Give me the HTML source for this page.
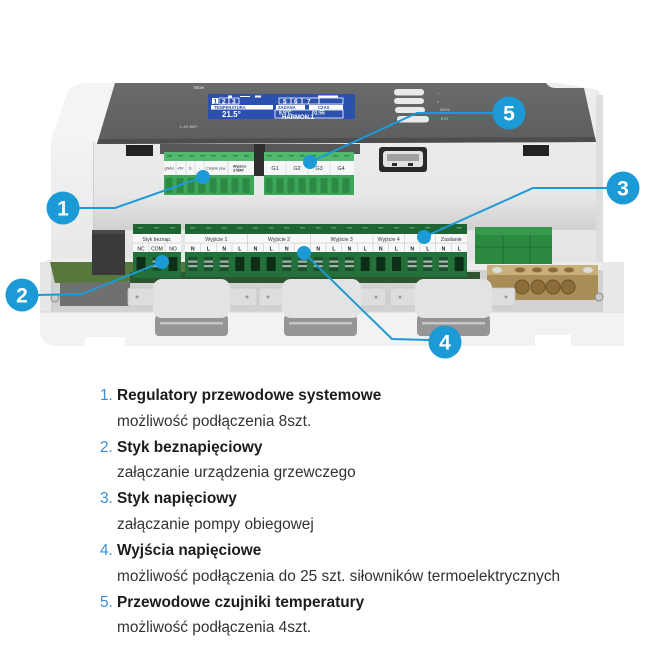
<!DOCTYPE html>
<html><head><meta charset="utf-8">
<style>
html,body{margin:0;padding:0;background:#fff;}
body{width:650px;height:650px;position:relative;overflow:hidden;font-family:"Liberation Sans",Arial,sans-serif;}
svg{position:absolute;left:0;top:0;}
.n{position:absolute;left:100px;font-size:15.4px;line-height:20px;color:#3a8fd3;white-space:nowrap;}
.t{position:absolute;left:117px;font-size:15.4px;line-height:20px;white-space:nowrap;}
.b{font-weight:bold;color:#1c1c1c;}
.r{color:#333;}
</style></head><body>
<svg width="650" height="650" viewBox="0 0 650 650" font-family="Liberation Sans, Arial, sans-serif">
<defs>
 <linearGradient id="hs" x1="0" y1="0" x2="0" y2="1"><stop offset="0" stop-color="#eeeeee"/><stop offset="1" stop-color="#e4e4e4"/></linearGradient>
 <linearGradient id="shelf" x1="0" y1="0" x2="0" y2="1"><stop offset="0" stop-color="#e5e5e5"/><stop offset="1" stop-color="#d0d0d0"/></linearGradient>
 <linearGradient id="pan" x1="0" y1="0" x2="0" y2="1"><stop offset="0" stop-color="#6a6b6d"/><stop offset="1" stop-color="#5c5d5f"/></linearGradient>
 <linearGradient id="lf" x1="0" y1="0" x2="0" y2="1"><stop offset="0" stop-color="#f3f3f3"/><stop offset="1" stop-color="#e6e6e6"/></linearGradient>
</defs>

<!-- housing -->
<path d="M51,140 L66,97 Q70,84 86,83 L560,83 L598,90 L603,100 L603,268 L51,272 Z" fill="url(#hs)"/>
<path d="M51,140 L66,97 Q70,84 86,83 L115,83 L97,142 Z" fill="#f4f4f4"/>
<rect x="51" y="140" width="42" height="132" fill="url(#lf)"/>
<line x1="93.5" y1="142" x2="93.5" y2="272" stroke="#d0d0d0" stroke-width="1"/>
<rect x="94" y="198" width="509" height="32" fill="url(#shelf)"/>
<rect x="596" y="95" width="7" height="172" fill="#dddddd"/>

<!-- top panel -->
<path d="M115,83 L546,83 Q549,88 556,88 L584,88 L596,142 L97,144 Z" fill="url(#pan)"/>
<path d="M98.5,139 L595,137 L596,142 L97,144 Z" fill="#4c4d4f"/>

<!-- display -->
<rect x="208" y="94" width="147" height="25" fill="#2b50ad"/>
<g fill="#ffffff">
 <rect x="228" y="95.5" width="4" height="2"/><rect x="240" y="96" width="10" height="1"/><rect x="255" y="95.5" width="6" height="2"/><rect x="318" y="95.5" width="20" height="2"/>
 <rect x="212" y="98" width="6" height="6"/>
</g>
<g fill="none" stroke="#ffffff" stroke-width="0.8">
 <rect x="219" y="98" width="10" height="6"/><rect x="229" y="98" width="10" height="6"/>
 <rect x="279" y="98" width="12" height="6"/><rect x="291" y="98" width="11" height="6"/><rect x="302" y="98" width="17" height="6"/><rect x="319" y="98" width="24" height="6"/>
 <rect x="275" y="110" width="68" height="8"/>
</g>
<g fill="#ffffff" font-weight="bold" font-size="6.5">
 <text x="222" y="103.5">2</text><text x="232" y="103.5">3</text>
 <text x="283" y="103.5">5</text><text x="294" y="103.5">6</text><text x="307" y="103.5">7</text>
</g>
<text x="213.5" y="103.5" font-size="6.5" font-weight="bold" fill="#2b50ad">1</text>
<rect x="211" y="105" width="62" height="4.5" fill="#fff"/>
<rect x="276" y="105" width="29" height="4.5" fill="#fff"/>
<rect x="309" y="105" width="34" height="4.5" fill="#fff"/>
<g fill="#2b50ad" font-size="4.2" font-weight="bold">
 <text x="214" y="109">TEMPERATURA</text><text x="278" y="109">ZADANA</text><text x="318" y="109">CZAS</text>
</g>
<g fill="#fff" font-weight="bold">
 <text x="222" y="117" font-size="8">21.5°</text>
 <text x="279" y="114.5" font-size="5">8.9°C</text><text x="312" y="114.5" font-size="5">01:55</text>
 <text x="282" y="119" font-size="6">HARMON.1</text>
</g>
<text x="193" y="89" font-size="4" font-weight="bold" fill="#e0e0e0">TECH</text>
<text x="180" y="128" font-size="4" fill="#d8d8d8">L-4X WiFi</text>

<!-- buttons -->
<g fill="#e9e9e9">
 <rect x="394" y="89" width="30" height="6.5" rx="3"/>
 <rect x="394" y="98" width="30" height="6" rx="3"/>
 <rect x="395" y="107" width="30" height="6" rx="3"/>
 <rect x="397" y="116" width="32" height="6.5" rx="3"/>
</g>
<g fill="#cfcfcf" font-size="3.5">
 <text x="437" y="95">^</text><text x="437" y="103">v</text><text x="440" y="111">MENU</text><text x="441" y="120">EXIT</text>
</g>

<!-- under panel -->
<rect x="126" y="145" width="27" height="11" fill="#222"/>
<rect x="523" y="145" width="26" height="11" fill="#222"/>
<rect x="160" y="144" width="200" height="10" fill="#575757"/>
<rect x="254" y="144" width="11" height="32" fill="#2f2f2f"/>

<!-- USB -->
<rect x="379" y="147" width="48" height="25" rx="3" fill="#2a2a2a"/>
<rect x="383" y="151" width="40" height="16" rx="3" fill="#e2e2e2"/>
<rect x="387" y="154" width="32" height="7" fill="#a0a0a0"/>
<rect x="392" y="163" width="5" height="3" fill="#2a2a2a"/>
<rect x="408" y="163" width="5" height="3" fill="#2a2a2a"/>

<!-- top green block 1 -->
<rect x="164" y="152" width="90" height="43" fill="#3da658"/>
<rect x="164" y="152" width="90" height="9" fill="#52b86d"/>
<g fill="#2f8a48">
 <rect x="167" y="155" width="5" height="1.5"/><rect x="178" y="155" width="5" height="1.5"/><rect x="189" y="155" width="5" height="1.5"/><rect x="200" y="155" width="5" height="1.5"/><rect x="211" y="155" width="5" height="1.5"/><rect x="222" y="155" width="5" height="1.5"/><rect x="233" y="155" width="5" height="1.5"/><rect x="244" y="155" width="5" height="1.5"/>
</g>
<rect x="164" y="161" width="90" height="14" fill="#f7f7f7"/>
<g stroke="#c8c8c8" stroke-width="0.6">
 <line x1="176" y1="161" x2="176" y2="175"/><line x1="186" y1="161" x2="186" y2="175"/><line x1="195" y1="161" x2="195" y2="175"/><line x1="204" y1="161" x2="204" y2="175"/><line x1="228" y1="161" x2="228" y2="175"/>
</g>
<g font-size="3.6" fill="#333">
 <text x="164.5" y="169.5">gNAU</text><text x="177" y="169.5">+5V</text><text x="189" y="169.5">D</text><text x="199" y="169.5">-</text><text x="206" y="169.5">Czujnik zew.</text>
 <text x="233" y="167.5" font-weight="bold">Wyjście</text><text x="233" y="171.5" font-weight="bold">3-WAY</text>
</g>
<g fill="#2d8a46">
 <rect x="165.5" y="178" width="7" height="15"/><rect x="176.5" y="178" width="7" height="15"/><rect x="187.5" y="178" width="7" height="15"/><rect x="198.5" y="178" width="7" height="15"/><rect x="209.5" y="178" width="7" height="15"/><rect x="220.5" y="178" width="7" height="15"/><rect x="231.5" y="178" width="7" height="15"/><rect x="242.5" y="178" width="7" height="15"/>
</g>

<!-- top green block 2 -->
<rect x="264" y="152" width="90" height="43" fill="#3da658"/>
<rect x="264" y="152" width="90" height="9" fill="#52b86d"/>
<g fill="#2f8a48">
 <rect x="267" y="155" width="5" height="1.5"/><rect x="278" y="155" width="5" height="1.5"/><rect x="289" y="155" width="5" height="1.5"/><rect x="300" y="155" width="5" height="1.5"/><rect x="311" y="155" width="5" height="1.5"/><rect x="322" y="155" width="5" height="1.5"/><rect x="333" y="155" width="5" height="1.5"/><rect x="344" y="155" width="5" height="1.5"/>
</g>
<rect x="264" y="161" width="90" height="14" fill="#f7f7f7"/>
<g stroke="#c8c8c8" stroke-width="0.6">
 <line x1="286" y1="161" x2="286" y2="175"/><line x1="308" y1="161" x2="308" y2="175"/><line x1="330" y1="161" x2="330" y2="175"/>
</g>
<g font-size="5.5" fill="#333" text-anchor="middle">
 <text x="275" y="170">G1</text><text x="297" y="170">G2</text><text x="319" y="170">G3</text><text x="341" y="170">G4</text>
</g>
<g fill="#2d8a46">
 <rect x="265.5" y="178" width="7" height="15"/><rect x="276.5" y="178" width="7" height="15"/><rect x="287.5" y="178" width="7" height="15"/><rect x="298.5" y="178" width="7" height="15"/><rect x="309.5" y="178" width="7" height="15"/><rect x="320.5" y="178" width="7" height="15"/><rect x="331.5" y="178" width="7" height="15"/><rect x="342.5" y="178" width="7" height="15"/>
</g>

<!-- tray base -->
<path d="M40,264 L52,258 L603,262 L624,262 L624,346 L58,346 Q41,346 40,330 Z" fill="#ececec"/>
<rect x="50" y="270" width="553" height="44" fill="#d2d2d2"/>
<rect x="60" y="282" width="70" height="24" fill="#707070"/>
<rect x="40" y="262" width="12" height="60" fill="#e6e6e6"/>
<line x1="52" y1="262" x2="52" y2="312" stroke="#bdbdbd" stroke-width="1"/>

<!-- relay & PCB -->
<polygon points="50,262 185,262 185,281 55,283" fill="#56783c"/>
<rect x="130" y="272" width="350" height="11" fill="#2f5530"/>
<rect x="92" y="230" width="33" height="45" fill="#3a3a3a"/>
<rect x="92" y="230" width="33" height="4" fill="#4a4a4a"/>

<!-- Styk block -->
<rect x="133" y="224" width="48" height="54" fill="#23703a"/>
<rect x="133" y="224" width="48" height="10" fill="#1f6534"/>
<g fill="#4d9a66"><rect x="138" y="227" width="5" height="1.5"/><rect x="154" y="227" width="5" height="1.5"/><rect x="170" y="227" width="5" height="1.5"/></g>
<rect x="133" y="234" width="48" height="18" fill="#f8f8f8"/>
<g stroke="#bbb" stroke-width="0.5"><line x1="133" y1="243" x2="181" y2="243"/><line x1="149" y1="243" x2="149" y2="252"/><line x1="165" y1="243" x2="165" y2="252"/></g>
<text x="157" y="241" font-size="5" fill="#333" text-anchor="middle">Styk beznap.</text>
<g font-size="5" fill="#222" text-anchor="middle"><text x="141" y="250.5">NC</text><text x="157" y="250.5">COM</text><text x="173" y="250.5">NO</text></g>
<rect x="136.5" y="257" width="9" height="14" fill="#0f2e18"/>
<rect x="152.5" y="257" width="9" height="14" fill="#1a4f2b"/>
<rect x="168.5" y="257" width="9" height="14" fill="#0f2e18"/>

<!-- main block -->
<rect x="185" y="224" width="282" height="53" fill="#23703a"/>
<rect x="185" y="224" width="282" height="10" fill="#1f6534"/>
<g fill="#4d9a66">
 <rect x="190.3" y="227" width="5" height="1.5"/><rect x="206" y="227" width="5" height="1.5"/><rect x="221.7" y="227" width="5" height="1.5"/><rect x="237.3" y="227" width="5" height="1.5"/><rect x="253" y="227" width="5" height="1.5"/><rect x="268.7" y="227" width="5" height="1.5"/><rect x="284.3" y="227" width="5" height="1.5"/><rect x="300" y="227" width="5" height="1.5"/><rect x="315.7" y="227" width="5" height="1.5"/><rect x="331.3" y="227" width="5" height="1.5"/><rect x="347" y="227" width="5" height="1.5"/><rect x="362.7" y="227" width="5" height="1.5"/><rect x="378.3" y="227" width="5" height="1.5"/><rect x="394" y="227" width="5" height="1.5"/><rect x="409.7" y="227" width="5" height="1.5"/><rect x="425.3" y="227" width="5" height="1.5"/><rect x="441" y="227" width="5" height="1.5"/><rect x="456.7" y="227" width="5" height="1.5"/>
</g>
<rect x="185" y="234" width="282" height="18" fill="#f8f8f8"/>
<g stroke="#bbb" stroke-width="0.5">
 <line x1="185" y1="243" x2="467" y2="243"/>
 <line x1="247.7" y1="234" x2="247.7" y2="252"/><line x1="310.3" y1="234" x2="310.3" y2="252"/><line x1="373" y1="234" x2="373" y2="252"/><line x1="404.3" y1="234" x2="404.3" y2="252"/><line x1="435.7" y1="234" x2="435.7" y2="252"/>
 <line x1="200.7" y1="243" x2="200.7" y2="252"/><line x1="216.3" y1="243" x2="216.3" y2="252"/><line x1="232" y1="243" x2="232" y2="252"/><line x1="263.3" y1="243" x2="263.3" y2="252"/><line x1="279" y1="243" x2="279" y2="252"/><line x1="294.7" y1="243" x2="294.7" y2="252"/><line x1="326" y1="243" x2="326" y2="252"/><line x1="341.7" y1="243" x2="341.7" y2="252"/><line x1="357.3" y1="243" x2="357.3" y2="252"/><line x1="388.7" y1="243" x2="388.7" y2="252"/><line x1="420" y1="243" x2="420" y2="252"/><line x1="451.3" y1="243" x2="451.3" y2="252"/>
</g>
<g font-size="5.2" fill="#333" text-anchor="middle">
 <text x="216.3" y="241">Wyjście 1</text><text x="279" y="241">Wyjście 2</text><text x="341.7" y="241">Wyjście 3</text><text x="388.7" y="241">Wyjście 4</text><text x="420" y="241">P</text><text x="451.3" y="241">Zasilanie</text>
</g>
<g font-size="5.2" fill="#222" text-anchor="middle" font-weight="bold">
 <text x="192.8" y="250.5">N</text><text x="208.5" y="250.5">L</text><text x="224.2" y="250.5">N</text><text x="239.8" y="250.5">L</text><text x="255.5" y="250.5">N</text><text x="271.2" y="250.5">L</text><text x="286.8" y="250.5">N</text><text x="302.5" y="250.5">L</text><text x="318.2" y="250.5">N</text><text x="333.8" y="250.5">L</text><text x="349.5" y="250.5">N</text><text x="365.2" y="250.5">L</text><text x="380.8" y="250.5">N</text><text x="396.5" y="250.5">L</text><text x="412.2" y="250.5">N</text><text x="427.8" y="250.5">L</text><text x="443.5" y="250.5">N</text><text x="459.2" y="250.5">L</text>
</g>
<g fill="#1a4f2b">
 <rect x="188.3" y="257" width="9" height="14"/><rect x="204" y="257" width="9" height="14"/><rect x="219.7" y="257" width="9" height="14"/><rect x="282.3" y="257" width="9" height="14"/><rect x="298" y="257" width="9" height="14"/><rect x="313.7" y="257" width="9" height="14"/><rect x="329.3" y="257" width="9" height="14"/><rect x="345" y="257" width="9" height="14"/><rect x="407.7" y="257" width="9" height="14"/><rect x="423.3" y="257" width="9" height="14"/><rect x="439" y="257" width="9" height="14"/>
</g>
<g fill="#0f2e18">
 <rect x="235.3" y="257" width="9" height="14"/><rect x="251" y="257" width="9" height="14"/><rect x="266.7" y="257" width="9" height="14"/><rect x="360.7" y="257" width="9" height="14"/><rect x="376.3" y="257" width="9" height="14"/><rect x="392" y="257" width="9" height="14"/><rect x="454.7" y="257" width="9" height="14"/>
</g>
<g fill="#a6b0aa">
 <rect x="188.3" y="260.5" width="9" height="2.2"/><rect x="188.3" y="265" width="9" height="2.2"/>
 <rect x="204" y="260.5" width="9" height="2.2"/><rect x="204" y="265" width="9" height="2.2"/>
 <rect x="219.7" y="260.5" width="9" height="2.2"/><rect x="219.7" y="265" width="9" height="2.2"/>
 <rect x="282.3" y="260.5" width="9" height="2.2"/><rect x="282.3" y="265" width="9" height="2.2"/>
 <rect x="298" y="260.5" width="9" height="2.2"/><rect x="298" y="265" width="9" height="2.2"/>
 <rect x="313.7" y="260.5" width="9" height="2.2"/><rect x="313.7" y="265" width="9" height="2.2"/>
 <rect x="329.3" y="260.5" width="9" height="2.2"/><rect x="329.3" y="265" width="9" height="2.2"/>
 <rect x="345" y="260.5" width="9" height="2.2"/><rect x="345" y="265" width="9" height="2.2"/>
 <rect x="407.7" y="260.5" width="9" height="2.2"/><rect x="407.7" y="265" width="9" height="2.2"/>
 <rect x="423.3" y="260.5" width="9" height="2.2"/><rect x="423.3" y="265" width="9" height="2.2"/>
 <rect x="439" y="260.5" width="9" height="2.2"/><rect x="439" y="265" width="9" height="2.2"/>
 <rect x="152.5" y="260.5" width="9" height="2.2"/><rect x="152.5" y="265" width="9" height="2.2"/>
</g>

<!-- right mains terminal -->
<rect x="475" y="227" width="77" height="37" fill="#2c8a40"/>
<rect x="475" y="227" width="77" height="8" fill="#36984a"/>
<g stroke="#1e6e30" stroke-width="1"><line x1="503" y1="235" x2="503" y2="264"/><line x1="530" y1="235" x2="530" y2="264"/><line x1="475" y1="247" x2="552" y2="247"/></g>

<!-- brass bar -->
<rect x="487" y="265" width="111" height="35" fill="#a98d56"/>
<rect x="487" y="265" width="111" height="10" fill="#c7b07a"/>
<g fill="#8a6b38"><ellipse cx="520" cy="270" rx="5" ry="2.5"/><ellipse cx="537" cy="270" rx="5" ry="2.5"/><ellipse cx="553" cy="270" rx="5" ry="2.5"/><ellipse cx="569" cy="270" rx="5" ry="2.5"/></g>
<ellipse cx="497" cy="270" rx="5" ry="3" fill="#dcdcdc"/><ellipse cx="588" cy="270" rx="5" ry="3" fill="#dcdcdc"/>
<g fill="#8c6d3a" stroke="#6b5128" stroke-width="1"><circle cx="522" cy="287" r="7"/><circle cx="538" cy="287" r="7"/><circle cx="553" cy="287" r="7"/><circle cx="568" cy="287" r="7"/></g>

<!-- tray front -->
<path d="M40,312 L624,312 L624,346 L58,346 Q41,346 40,330 Z" fill="#f2f2f2"/>
<line x1="40" y1="312" x2="624" y2="312" stroke="#d8d8d8" stroke-width="1"/>
<rect x="85" y="337" width="40" height="11" fill="#ffffff"/>
<rect x="535" y="335" width="36" height="13" fill="#ffffff"/>
<rect x="603" y="262" width="21" height="50" fill="#e9e9e9"/>
<circle cx="55" cy="298" r="4" fill="#c9c9c9" stroke="#8a8a8a" stroke-width="1"/>
<circle cx="599" cy="297" r="4" fill="#c9c9c9" stroke="#8a8a8a" stroke-width="1"/>

<!-- clamps -->
<g>
 <rect x="128" y="288" width="129" height="18" rx="2" fill="#dddddd" stroke="#c4c4c4" stroke-width="0.8"/>
 <rect x="259" y="288" width="127" height="18" rx="2" fill="#dddddd" stroke="#c4c4c4" stroke-width="0.8"/>
 <rect x="390" y="288" width="125" height="18" rx="2" fill="#dddddd" stroke="#c4c4c4" stroke-width="0.8"/>
 <g fill="#9a9a9a"><circle cx="137" cy="297" r="1.5"/><circle cx="247" cy="297" r="1.5"/><circle cx="268" cy="297" r="1.5"/><circle cx="376" cy="297" r="1.5"/><circle cx="400" cy="297" r="1.5"/><circle cx="506" cy="297" r="1.5"/></g>
 <rect x="155" y="315" width="73" height="21" rx="4" fill="#959595"/>
 <rect x="284" y="315" width="73" height="21" rx="4" fill="#959595"/>
 <rect x="417" y="315" width="73" height="21" rx="4" fill="#959595"/>
 <g fill="#c6c6c6"><rect x="160" y="322" width="63" height="2.5"/><rect x="289" y="322" width="63" height="2.5"/><rect x="422" y="322" width="63" height="2.5"/></g>
 <rect x="153" y="279" width="77" height="39" rx="9" fill="#e3e3e3"/>
 <rect x="282" y="279" width="79" height="39" rx="9" fill="#e3e3e3"/>
 <rect x="415" y="279" width="77" height="39" rx="9" fill="#e3e3e3"/>
</g>

<!-- callout lines -->
<g fill="none" stroke="#1b9ad6" stroke-width="2">
 <polyline points="79,208 115,208 203,177"/>
 <polyline points="38,295 82,294 162,262"/>
 <polyline points="607,188 533,188 424,237"/>
 <polyline points="429,340 392,339 304,253"/>
 <polyline points="493,113 417,113 310,162"/>
</g>
<g fill="#1b9ad6">
 <circle cx="203" cy="177" r="7"/><circle cx="162" cy="262" r="7"/><circle cx="424" cy="237" r="7"/><circle cx="304" cy="253" r="7"/><circle cx="310" cy="162" r="7"/>
 <circle cx="63" cy="208" r="16.5"/><circle cx="22" cy="295" r="16.5"/><circle cx="623" cy="188" r="16.5"/><circle cx="445" cy="342" r="16.5"/><circle cx="509" cy="113" r="16.5"/>
</g>
<g fill="#ffffff" font-weight="bold" font-size="21" text-anchor="middle">
 <text x="63" y="215.5">1</text><text x="22" y="302.5">2</text><text x="623" y="195.5">3</text><text x="445" y="349.5">4</text><text x="509" y="120.5">5</text>
</g>
</svg>

<div class="n" style="top:386px">1.</div><div class="t b" style="top:386px">Regulatory przewodowe systemowe</div>
<div class="t r" style="top:412px">możliwość podłączenia 8szt.</div>
<div class="n" style="top:438px">2.</div><div class="t b" style="top:438px">Styk beznapięciowy</div>
<div class="t r" style="top:463px">załączanie urządzenia grzewczego</div>
<div class="n" style="top:489px">3.</div><div class="t b" style="top:489px">Styk napięciowy</div>
<div class="t r" style="top:515px">załączanie pompy obiegowej</div>
<div class="n" style="top:541px">4.</div><div class="t b" style="top:541px">Wyjścia napięciowe</div>
<div class="t r" style="top:567px">możliwość podłączenia do 25 szt. siłowników termoelektrycznych</div>
<div class="n" style="top:593px">5.</div><div class="t b" style="top:593px">Przewodowe czujniki temperatury</div>
<div class="t r" style="top:618px">możliwość podłączenia 4szt.</div>
</body></html>
